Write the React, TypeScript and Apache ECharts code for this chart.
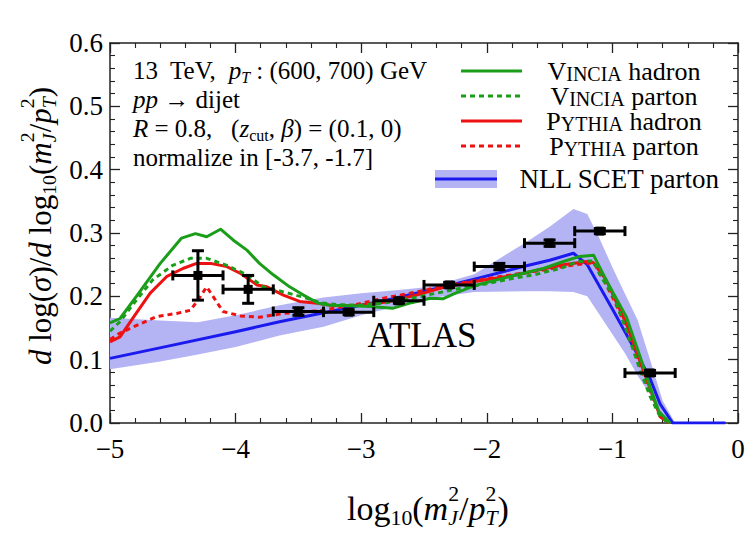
import React, { useEffect, useRef } from 'react';
import * as echarts from 'echarts';

const FONT = '"Liberation Serif", "DejaVu Serif", "Times New Roman", serif';

// NLL SCET parton: uncertainty band and central curve
const bandX = [-5, -4.6, -4.3, -4.0, -3.65, -3.3, -3.0, -2.7, -2.45, -2.1, -1.7, -1.5, -1.31, -1.2, -1.1, -1.0, -0.9, -0.8, -0.7, -0.6, -0.5];
const bandHi = [0.166, 0.162, 0.159, 0.17, 0.186, 0.198, 0.205, 0.21, 0.215, 0.235, 0.284, 0.31, 0.338, 0.33, 0.29, 0.246, 0.204, 0.163, 0.1, 0.035, 0.0];
const bandLo = [0.085, 0.097, 0.108, 0.12, 0.138, 0.152, 0.17, 0.185, 0.197, 0.207, 0.208, 0.208, 0.207, 0.2, 0.17, 0.14, 0.11, 0.075, 0.045, 0.01, 0.0];

const nllX = [-5, -4.5, -4, -3.65, -3.25, -2.8, -2.45, -2.1, -1.71, -1.5, -1.31, -1.2, -1.0, -0.8, -0.7, -0.62, -0.52, -0.1];
const nllY = [0.102, 0.123, 0.144, 0.16, 0.176, 0.194, 0.21, 0.227, 0.247, 0.257, 0.268, 0.25, 0.18, 0.108, 0.07, 0.03, 0.0, 0.0];

// Vincia hadron / parton
const vinHadX = [-5, -4.92, -4.79, -4.6, -4.43, -4.32, -4.23, -4.12, -4.02, -3.91, -3.81, -3.7, -3.57, -3.46, -3.34, -3.25, -3.09, -2.93, -2.75, -2.6, -2.45, -2.35, -2.25, -2.08, -1.92, -1.76, -1.55, -1.39, -1.26, -1.15, -1.05, -0.89, -0.78, -0.7, -0.63, -0.54];
const vinHadY = [0.158, 0.165, 0.2, 0.252, 0.292, 0.299, 0.294, 0.306, 0.289, 0.273, 0.252, 0.234, 0.215, 0.202, 0.189, 0.186, 0.185, 0.184, 0.181, 0.19, 0.197, 0.196, 0.205, 0.218, 0.226, 0.234, 0.244, 0.255, 0.263, 0.265, 0.226, 0.168, 0.105, 0.057, 0.018, 0.0];

const vinParX = [-5, -4.92, -4.81, -4.66, -4.5, -4.36, -4.23, -4.07, -3.91, -3.78, -3.62, -3.43, -3.33, -3.2, -3.0, -2.8, -2.6, -2.4, -2.2, -2.0, -1.8, -1.6, -1.4, -1.28, -1.15, -1.1, -0.99, -0.89, -0.78, -0.7, -0.62, -0.55];
const vinParY = [0.145, 0.16, 0.189, 0.226, 0.249, 0.26, 0.26, 0.249, 0.234, 0.215, 0.207, 0.197, 0.19, 0.187, 0.186, 0.19, 0.197, 0.205, 0.213, 0.22, 0.228, 0.235, 0.245, 0.255, 0.256, 0.234, 0.2, 0.147, 0.084, 0.042, 0.01, 0.0];

// Pythia hadron / parton
const pyHadX = [-5, -4.92, -4.81, -4.68, -4.55, -4.42, -4.31, -4.2, -4.07, -3.96, -3.83, -3.75, -3.62, -3.49, -3.35, -3.22, -3.0, -2.77, -2.56, -2.35, -2.11, -1.76, -1.58, -1.39, -1.2, -1.15, -1.05, -0.89, -0.78, -0.7, -0.62, -0.55];
const pyHadY = [0.128, 0.136, 0.168, 0.205, 0.231, 0.244, 0.252, 0.252, 0.247, 0.236, 0.218, 0.215, 0.202, 0.192, 0.189, 0.185, 0.186, 0.192, 0.202, 0.214, 0.223, 0.234, 0.242, 0.25, 0.255, 0.253, 0.226, 0.157, 0.097, 0.055, 0.01, 0.0];

const pyParX = [-5, -4.92, -4.81, -4.63, -4.47, -4.36, -4.3, -4.23, -4.16, -4.1, -3.96, -3.81, -3.62, -3.35, -3.09, -2.82, -2.56, -2.29, -2.0, -1.6, -1.3, -1.15, -1.1, -0.99, -0.89, -0.78, -0.7, -0.62, -0.55];
const pyParY = [0.132, 0.142, 0.152, 0.168, 0.173, 0.178, 0.194, 0.215, 0.194, 0.176, 0.169, 0.167, 0.173, 0.177, 0.185, 0.197, 0.207, 0.218, 0.228, 0.24, 0.25, 0.253, 0.238, 0.195, 0.152, 0.09, 0.05, 0.012, 0.0];

// ATLAS measurement
const atlasX = [-4.3, -3.9, -3.5, -3.1, -2.7, -2.3, -1.9, -1.5, -1.1, -0.7];
const atlasY = [0.233, 0.211, 0.176, 0.175, 0.193, 0.218, 0.247, 0.284, 0.303, 0.079];
const atlasXErr = [0.2, 0.2, 0.2, 0.2, 0.2, 0.2, 0.2, 0.2, 0.2, 0.2];
const atlasYErr = [0.039, 0.022, 0.006, 0.004, 0.004, 0.004, 0.005, 0.005, 0.004, 0.004];

// legend entries (label text uses rich tokens for the small capitals)
const legendLabels = [
  '{n|V}{sc|INCIA}{n| hadron}',
  '{n|V}{sc|INCIA}{n| parton}',
  '{n|P}{sc|YTHIA}{n| hadron}',
  '{n|P}{sc|YTHIA}{n| parton}',
];

const GREEN = '#1a9e1a';
const RED = '#ee1111';
const BLUE = '#1a1aee';
const BAND = '#b4b4f5';
const AXIS = '#222';

const zip = (xs: number[], ys: number[]) => xs.map((x, i) => [x, ys[i]]);
const minus = (s: string) => s.replace('-', '\u2212');

// --- small typesetting helper: runs of text with italics, sub- and superscripts ---
type Piece = { t: string; it?: boolean; s?: number; dy?: number; hold?: boolean };
const SUB = 0.64;
const sub = (t: string, it = false): Piece => ({ t, it, s: SUB, dy: 0.3 });
const sup = (t: string): Piece => ({ t, s: SUB, dy: -0.42, hold: true });

let measureCtx: CanvasRenderingContext2D | null = null;
const measure = (t: string, fs: number, it?: boolean) => {
  if (!measureCtx) measureCtx = document.createElement('canvas').getContext('2d');
  measureCtx!.font = `${it ? 'italic ' : ''}${fs}px ${FONT}`;
  return measureCtx!.measureText(t).width;
};

const mathLine = (
  pieces: Piece[],
  size: number,
  x: number,
  y: number,
  align: 'left' | 'center' = 'left',
  rotation = 0,
  lineHeight?: number
) => {
  let cx = 0;
  let held = 0;
  const children: any[] = [];
  pieces.forEach((p) => {
    const fs = size * (p.s ?? 1);
    const w = measure(p.t, fs, p.it);
    const style: any = {
      text: p.t,
      fontFamily: FONT,
      fontSize: fs,
      fontStyle: p.it ? 'italic' : 'normal',
      fill: '#000',
      align: 'left',
      verticalAlign: 'middle',
    };
    if (lineHeight) style.lineHeight = Math.min(lineHeight, fs * 1.1);
    children.push({ type: 'text', x: cx, y: (p.dy ?? 0) * size, silent: true, z: 50, style });
    if (p.hold) {
      held = w;
    } else {
      cx += Math.max(w, held);
      held = 0;
    }
  });
  const off = align === 'center' ? -cx / 2 : 0;
  children.forEach((c) => (c.x += off));
  return { type: 'group', x, y, rotation, z: 50, silent: true, children };
};

const axisCommon = {
  axisLine: { show: true, onZero: false, lineStyle: { color: AXIS, width: 1.5 } },
  axisTick: { show: true, inside: true, length: 10, lineStyle: { color: AXIS, width: 1.3 } },
  minorTick: { show: true, splitNumber: 5, length: 5, lineStyle: { color: AXIS, width: 1.1 } },
  splitLine: { show: false },
  minorSplitLine: { show: false },
};

const lineSeries = (name: string, xs: number[], ys: number[], color: string, dashed: boolean, z: number) => ({
  name,
  type: 'line',
  data: zip(xs, ys),
  symbol: 'none',
  showSymbol: false,
  silent: true,
  z,
  lineStyle: { color, width: 3, type: dashed ? [5, 4] : 'solid', cap: 'butt', join: 'round' },
});

const legendSwatches = [
  { color: GREEN, dashed: false },
  { color: GREEN, dashed: true },
  { color: RED, dashed: false },
  { color: RED, dashed: true },
];

export default function App() {
  const ref = useRef<HTMLDivElement>(null);

  useEffect(() => {
    const chart = echarts.init(ref.current!, null, { renderer: 'svg' });

    const LEG = 26;
    const ROW = 25;
    const ROW0 = 71;
    const graphic: any[] = [];
    legendSwatches.forEach((s, i) => {
      const y = ROW0 + i * ROW;
      graphic.push({
        type: 'line',
        silent: true,
        z: 50,
        shape: { x1: 461, y1: y, x2: 522, y2: y },
        style: { stroke: s.color, lineWidth: 3, lineDash: s.dashed ? [5, 4] : null },
      });
    });
    graphic.push({
      type: 'text',
      silent: true,
      z: 50,
      x: 624,
      y: ROW0 - ROW / 2,
      style: {
        text: legendLabels.join('\n'),
        align: 'center',
        verticalAlign: 'top',
        fill: '#000',
        fontFamily: FONT,
        fontSize: LEG,
        lineHeight: ROW,
        rich: {
          n: { fontFamily: FONT, fontSize: LEG, lineHeight: ROW, fill: '#000' },
          sc: { fontFamily: FONT, fontSize: Math.round(LEG * 0.78), lineHeight: 21, verticalAlign: 'bottom', fill: '#000' },
        },
      },
    });
    graphic.push({
      type: 'rect',
      silent: true,
      z: 50,
      shape: { x: 435, y: 170, width: 62, height: 18 },
      style: { fill: BAND },
    });
    graphic.push({
      type: 'line',
      silent: true,
      z: 51,
      shape: { x1: 435, y1: 179, x2: 497, y2: 179 },
      style: { stroke: BLUE, lineWidth: 3 },
    });
    graphic.push(mathLine([{ t: 'NLL SCET parton' }], 27, 620, 179, 'center', 0, 26));

    // process description
    const TB = 25;
    graphic.push(mathLine([{ t: '13  TeV,  ' }, { t: 'p', it: true }, sub('T', true), { t: ' : (600, 700) GeV' }], TB, 133, 70, 'left', 0, 27));
    graphic.push(mathLine([{ t: 'pp', it: true }, { t: ' \u2192 dijet' }], TB, 133, 99, 'left', 0, 27));
    graphic.push(
      mathLine(
        [
          { t: 'R', it: true },
          { t: ' = 0.8,   (' },
          { t: 'z', it: true },
          sub('cut'),
          { t: ', ' },
          { t: '\u03b2', it: true },
          { t: ') = (0.1, 0)' },
        ],
        TB,
        133,
        128,
        'left',
        0,
        27
      )
    );
    graphic.push(mathLine([{ t: 'normalize in [-3.7, -1.7]' }], TB, 133, 157, 'left', 0, 27));

    graphic.push(mathLine([{ t: 'ATLAS' }], 35, 422, 335, 'center'));

    // axis titles
    const ratio: Piece[] = [
      { t: '(' },
      { t: 'm', it: true },
      sup('2'),
      sub('J', true),
      { t: '/' },
      { t: 'p', it: true },
      sup('2'),
      sub('T', true),
      { t: ')' },
    ];
    graphic.push(mathLine([{ t: 'log' }, sub('10'), ...ratio], 34, 428, 508, 'center', 0, 22));
    graphic.push(
      mathLine(
        [
          { t: 'd', it: true },
          { t: ' log(' },
          { t: '\u03c3', it: true },
          { t: ')/' },
          { t: 'd', it: true },
          { t: ' log' },
          sub('10'),
          ...ratio,
        ],
        31,
        40,
        226,
        'center',
        Math.PI / 2,
        20
      )
    );

    const option: any = {
      animation: false,
      backgroundColor: '#fff',
      grid: { left: 110, right: 12, top: 43, bottom: 115, containLabel: false },
      xAxis: [
        {
          type: 'value',
          min: -5,
          max: 0,
          interval: 1,
          position: 'bottom',
          ...axisCommon,
          axisLabel: {
            fontFamily: FONT,
            fontSize: 27,
            color: '#000',
            margin: 12,
            formatter: (v: number) => minus(String(v)),
          },
        },
        {
          type: 'value',
          min: -5,
          max: 0,
          interval: 1,
          position: 'top',
          ...axisCommon,
          axisLabel: { show: false },
        },
      ],
      yAxis: [
        {
          type: 'value',
          min: 0,
          max: 0.6,
          interval: 0.1,
          position: 'left',
          ...axisCommon,
          axisLabel: {
            fontFamily: FONT,
            fontSize: 27,
            color: '#000',
            margin: 7,
            formatter: (v: number) => v.toFixed(1),
          },
        },
        {
          type: 'value',
          min: 0,
          max: 0.6,
          interval: 0.1,
          position: 'right',
          ...axisCommon,
          axisLabel: { show: false },
        },
      ],
      series: [
        {
          name: 'NLL SCET band',
          type: 'custom',
          z: 1,
          silent: true,
          data: bandX.map((x, i) => [x, bandLo[i], bandHi[i]]),
          encode: { x: 0, y: [1, 2] },
          renderItem: (params: any, api: any) => {
            if (params.dataIndex !== 0) return null;
            const upper = bandX.map((x, i) => api.coord([x, bandHi[i]]));
            const lower = bandX.map((x, i) => api.coord([x, bandLo[i]])).reverse();
            return { type: 'polygon', shape: { points: upper.concat(lower) }, style: { fill: BAND } };
          },
        },
        lineSeries('NLL SCET parton', nllX, nllY, BLUE, false, 3),
        lineSeries('Pythia parton', pyParX, pyParY, RED, true, 4),
        lineSeries('Pythia hadron', pyHadX, pyHadY, RED, false, 5),
        lineSeries('Vincia parton', vinParX, vinParY, GREEN, true, 6),
        lineSeries('Vincia hadron', vinHadX, vinHadY, GREEN, false, 7),
        {
          name: 'ATLAS',
          type: 'custom',
          z: 10,
          silent: true,
          data: atlasX.map((x, i) => [x, atlasY[i], atlasXErr[i], atlasYErr[i]]),
          encode: { x: 0, y: 1 },
          renderItem: (_p: any, api: any) => {
            const x = api.value(0);
            const y = api.value(1);
            const ex = api.value(2);
            const ey = api.value(3);
            const c = api.coord([x, y]);
            const l = api.coord([x - ex, y]);
            const r = api.coord([x + ex, y]);
            const t = api.coord([x, y + ey]);
            const b = api.coord([x, y - ey]);
            const st = { stroke: '#000', lineWidth: 3 };
            const cap = 5;
            const hcap = 6;
            return {
              type: 'group',
              children: [
                { type: 'line', shape: { x1: l[0], y1: l[1], x2: r[0], y2: r[1] }, style: st },
                { type: 'line', shape: { x1: l[0], y1: l[1] - cap, x2: l[0], y2: l[1] + cap }, style: st },
                { type: 'line', shape: { x1: r[0], y1: r[1] - cap, x2: r[0], y2: r[1] + cap }, style: st },
                { type: 'line', shape: { x1: t[0], y1: t[1], x2: b[0], y2: b[1] }, style: st },
                { type: 'line', shape: { x1: t[0] - hcap, y1: t[1], x2: t[0] + hcap, y2: t[1] }, style: st },
                { type: 'line', shape: { x1: b[0] - hcap, y1: b[1], x2: b[0] + hcap, y2: b[1] }, style: st },
                { type: 'rect', shape: { x: c[0] - 4.5, y: c[1] - 4.5, width: 9, height: 9 }, style: { fill: '#000' } },
              ],
            };
          },
        },
      ],
      graphic,
    };

    chart.setOption(option);
    return () => chart.dispose();
  }, []);

  return <div ref={ref} style={{ position: 'fixed', left: 0, top: 0, width: 750, height: 538 }} />;
}
